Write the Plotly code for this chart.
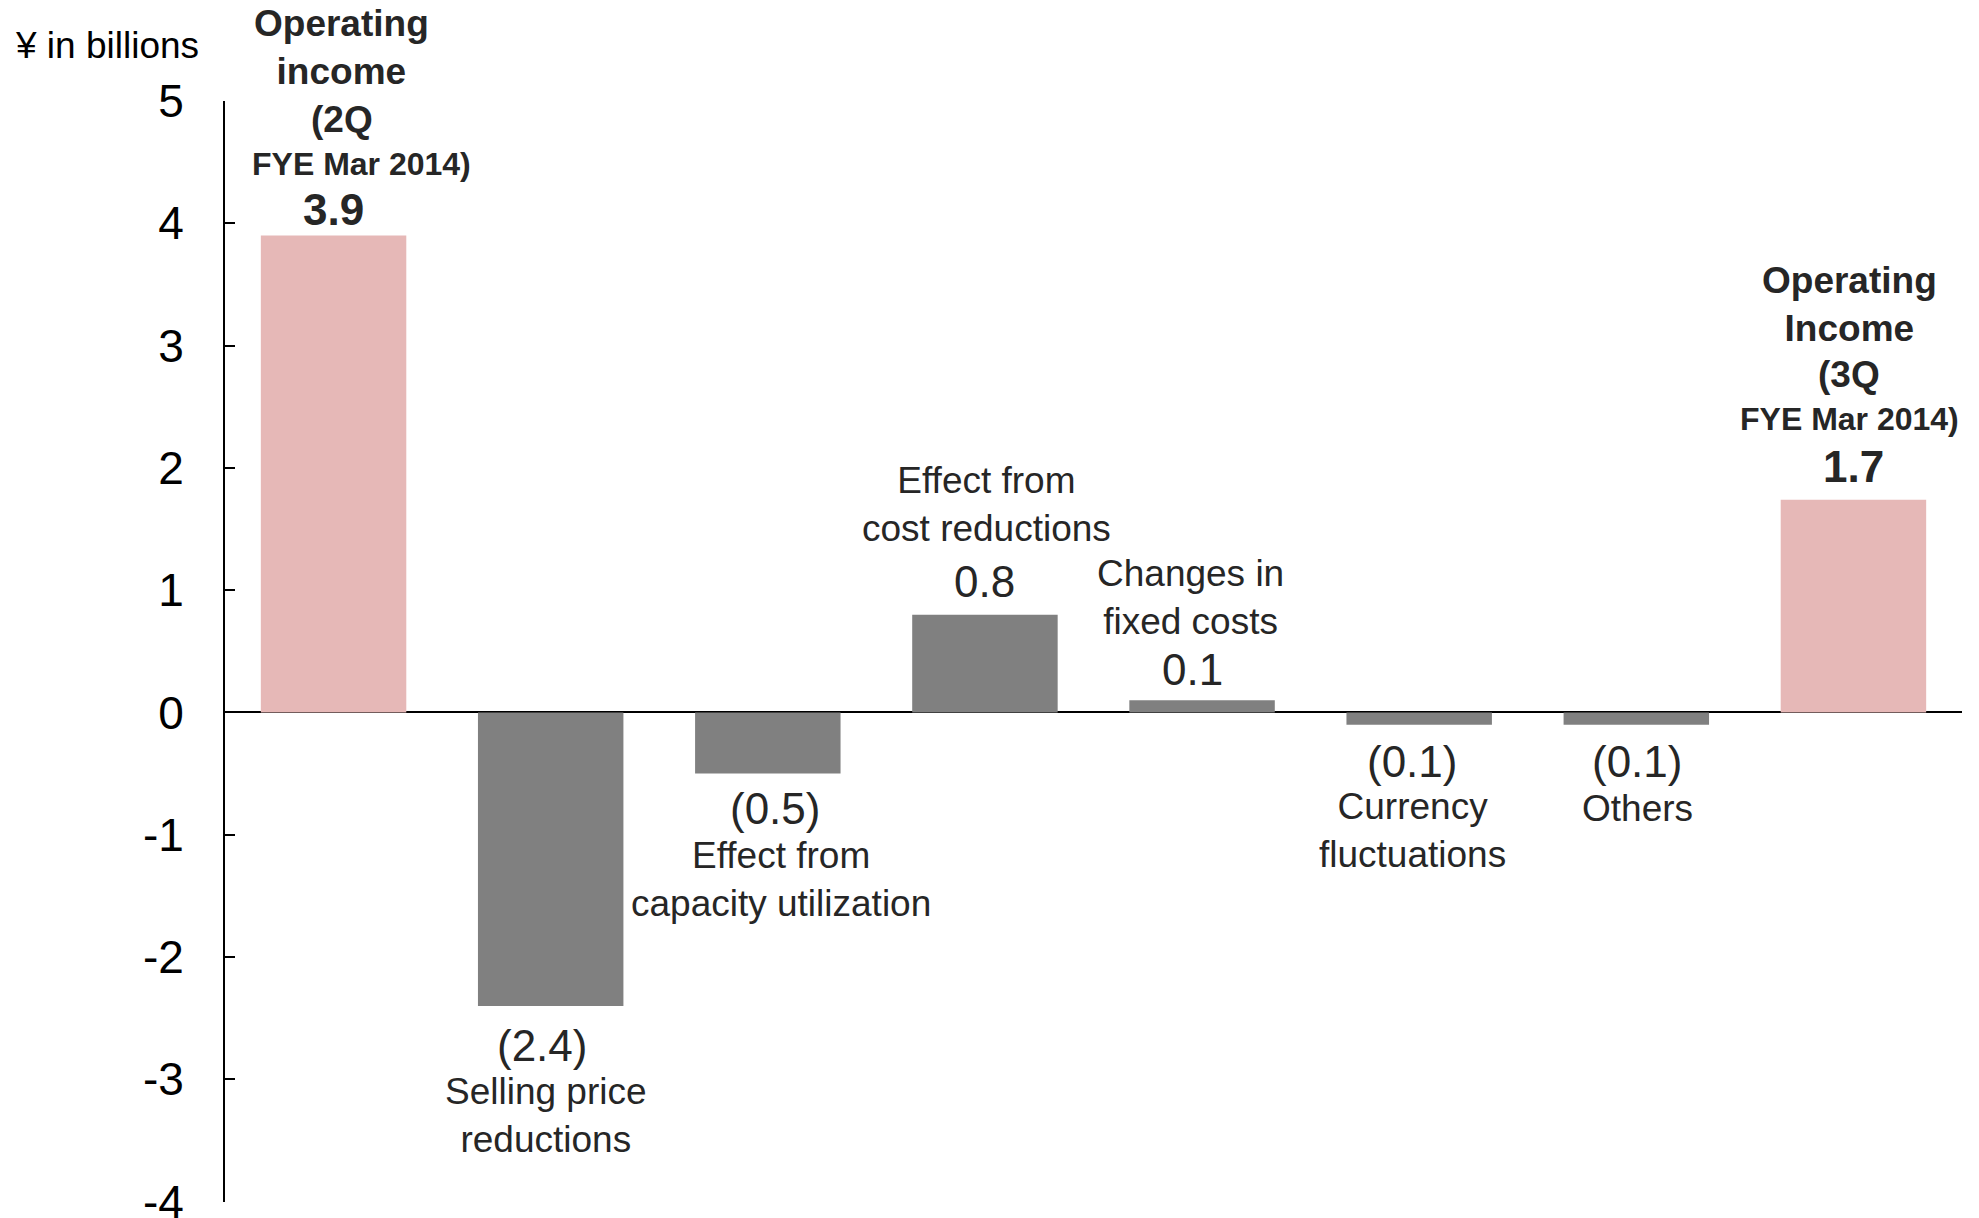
import plotly.graph_objects as go

# ---- data ----
categories = ["Operating income (2Q FYE Mar 2014)", "Selling price reductions",
              "Effect from capacity utilization", "Effect from cost reductions",
              "Changes in fixed costs", "Currency fluctuations", "Others",
              "Operating Income (3Q FYE Mar 2014)"]
values = [3.9, -2.4, -0.5, 0.8, 0.1, -0.1, -0.1, 1.74]
is_total = [True, False, False, False, False, False, False, True]
name_lines = [None, "Selling price<br>reductions", "Effect from<br>capacity utilization",
              "Effect from<br>cost reductions", "Changes in<br>fixed costs",
              "Currency<br>fluctuations", "Others", None]
header_top = ["Operating<br>income", "Operating<br>Income"]
header_q = ["(2Q", "(3Q"]
header_fye = ["FYE Mar 2014)", "FYE Mar 2014)"]
tick_vals = [-4, -3, -2, -1, 0, 1, 2, 3, 4, 5]
tick_text = ["-4", "-3", "-2", "-1", "0", "1", "2", "3", "4", "5"]
unit_label = "¥ in billions"

PINK = "#E6B8B7"
GRAY = "#808080"
TXT = "#262626"
FONT = "Liberation Sans, Arial, sans-serif"

x = list(range(len(values)))
colors = [PINK if t else GRAY for t in is_total]

fig = go.Figure(go.Bar(x=x, y=values, marker=dict(color=colors, line=dict(width=0)),
                       width=0.67, hoverinfo="skip"))

def fmt(v):
    s = f"{abs(v):.1f}"
    return f"({s})" if v < 0 else s

ann = []
# value + name labels for effects
name_shift = {1: -110, 2: -106, 3: 110, 4: 103, 5: -106, 6: -84}
name_xshift = {1: -5, 2: 13, 3: 2, 4: -12, 5: -7, 6: 1}
val_shift = {1: -40, 2: -35, 3: 33, 4: 31, 5: -37, 6: -37}
val_xshift = {1: -9, 2: 7, 3: 0, 4: -10, 5: -7, 6: 1}
for i, v in enumerate(values):
    if is_total[i]:
        continue
    ann.append(dict(x=i, y=v, xref="x", yref="y", text=fmt(v), showarrow=False,
                    yanchor="middle", xanchor="center", yshift=val_shift[i], xshift=val_xshift[i],
                    font=dict(family=FONT, size=44, color=TXT)))
    ann.append(dict(x=i, y=v, xref="x", yref="y", text=name_lines[i], showarrow=False,
                    yanchor="middle", xanchor="center", yshift=name_shift[i], xshift=name_xshift[i],
                    font=dict(family=FONT, size=37, color=TXT)))

# headers for totals
tot_idx = [i for i, t in enumerate(is_total) if t]
# (val shift, fye shift, q shift, top shift, val xshift, fye xshift, other xshift)
hdr_shifts = [(26, 72, 116, 188, 0, 28, 8), (33, 81, 125, 195, 0, -4, -4)]
for k, i in enumerate(tot_idx):
    v = values[i]
    s_val, s_fye, s_q, s_top, xs_val, xs_fye, xs_hdr = hdr_shifts[k]
    ann.append(dict(x=i, y=v, xref="x", yref="y", text=f"<b>{v:.1f}</b>", showarrow=False,
                    yanchor="middle", yshift=s_val, xshift=xs_val,
                    font=dict(family=FONT, size=44, color=TXT)))
    ann.append(dict(x=i, y=v, xref="x", yref="y", text=f"<b>{header_fye[k]}</b>", showarrow=False,
                    yanchor="middle", yshift=s_fye, xshift=xs_fye,
                    font=dict(family=FONT, size=32, color=TXT)))
    ann.append(dict(x=i, y=v, xref="x", yref="y", text=f"<b>{header_q[k]}</b>", showarrow=False,
                    yanchor="middle", yshift=s_q, xshift=xs_hdr,
                    font=dict(family=FONT, size=37, color=TXT)))
    ann.append(dict(x=i, y=v, xref="x", yref="y", text=f"<b>{header_top[k]}</b>", showarrow=False,
                    yanchor="middle", yshift=s_top, xshift=xs_hdr,
                    font=dict(family=FONT, size=37, color=TXT)))

ann.append(dict(x=0, y=1, xref="paper", yref="paper", text=unit_label, showarrow=False,
                xanchor="center", yanchor="middle", xshift=-118, yshift=56,
                font=dict(family=FONT, size=37, color="black")))

fig.update_layout(
    width=1979, height=1218,
    margin=dict(l=225, r=17, t=101, b=16, autoexpand=False),
    paper_bgcolor="white", plot_bgcolor="white",
    showlegend=False,
    bargap=0.33,
    annotations=ann,
    xaxis=dict(range=[-0.5, 7.5], visible=False, automargin=False),
    yaxis=dict(range=[-4.003, 5], tickvals=tick_vals, ticktext=tick_text,
               automargin=False,
               showgrid=False, showline=True, linecolor="black", linewidth=2,
               ticks="inside", ticklen=10, tickwidth=2, tickcolor="black",
               ticklabelstandoff=30, ticklabeloverflow="allow",
               zeroline=True, zerolinecolor="black", zerolinewidth=2,
               tickfont=dict(family=FONT, size=46, color="black")),
)

fig.write_html("out.html")
